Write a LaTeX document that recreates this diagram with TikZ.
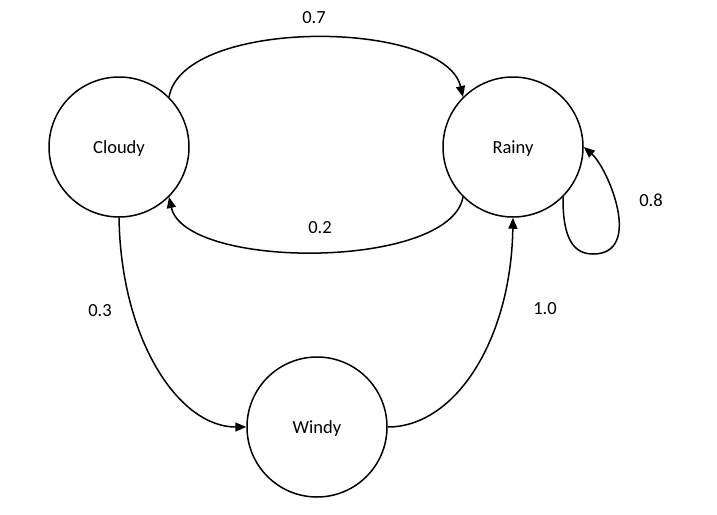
\documentclass[tikz,border=0pt]{standalone}
\usepackage{fontspec}
\setmainfont{Carlito}
\usetikzlibrary{arrows.meta}
\begin{document}
\begin{tikzpicture}[x=1pt,y=-1pt,
  state/.style={circle,draw,line width=1.5pt,minimum size=140pt,inner sep=0pt,text depth=0pt,font=\fontsize{18.5}{20}\selectfont},
  trans/.style={line width=1.5pt,-{Triangle[length=11pt,width=9pt]}},
  lbl/.style={font=\fontsize{18.5}{20}\selectfont,inner sep=0pt}]
\useasboundingbox (0,0) rectangle (717,514);
\node[state] (c) at (119,147) {Cloudy};
\node[state] (r) at (513,147) {Rainy};
\node[state] (w) at (317,427) {Windy};
\draw[trans] (c.45) .. controls +(14,-80) and +(-18,-78) .. (r.135);
\draw[trans] (r.225) .. controls +(-13,73) and +(16,73) .. (c.315);
\draw[trans] (c.south) .. controls +(2,123) and +(-67,0) .. (w.west);
\draw[trans] (w.east) .. controls +(67,0) and +(-2,123) .. (r.south);
\draw[trans] (r.315) .. controls +(-0.5,44) and (575,254) .. (593,254)
  .. controls (644,254) and (608,168) .. (r.east);
\node[lbl] (l1) at (314,18) {0.7};
\node[lbl] (l2) at (320,228) {0.2};
\node[lbl] (l3) at (100,311) {0.3};
\node[lbl] (l4) at (545,309) {1.0};
\node[lbl] (l5) at (651,200) {0.8};
\end{tikzpicture}
\end{document}
